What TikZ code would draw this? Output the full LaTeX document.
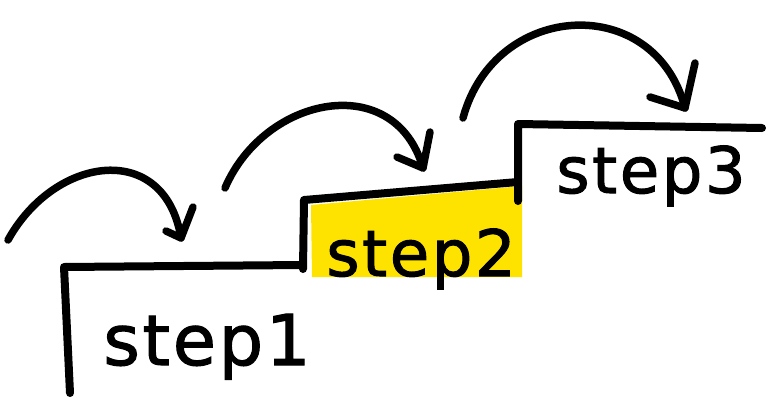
\documentclass[tikz,border=0pt]{standalone}
\usepackage{fontspec}
\newfontfamily\handfont[FakeBold=1.6,LetterSpace=4]{DejaVu Sans}
\definecolor{hiyellow}{HTML}{FFE300}
\tikzset{
  stair/.style={line width=8pt, line cap=round, line join=round},
  jump/.style={line width=7.5pt, line cap=round, line join=round},
  label/.style={font=\handfont\fontsize{70}{80}\selectfont, inner sep=0pt, anchor=base},
}
\begin{document}
\begin{tikzpicture}[x=1pt,y=-1pt]
\useasboundingbox (0,0) rectangle (780,408);
% highlight
\fill[hiyellow] (311,205) -- (522,186) -- (522,277) -- (312,277) -- cycle;
% stair corners
\coordinate (s1b) at (70,393);
\coordinate (s1t) at (64,267);
\coordinate (s1r) at (302,265);
\coordinate (s2t) at (304,200);
\coordinate (s2b) at (303,269);
\coordinate (s2r) at (518,182);
\coordinate (s3b) at (518,201);
\coordinate (s3t) at (518,124);
\coordinate (s3r) at (762,128);
\draw[stair] (s1b) -- (s1t) -- (s1r);
\draw[stair] (s2b) -- (s2t) -- (s2r);
\draw[stair] (s3b) -- (s3t) -- (s3r);
% labels
\node[label] (l1) at (207,365) {step1};
\node[label,font=\handfont\fontsize{64}{75}\selectfont] (l2) at (421,276) {step2};
\node[label,font=\handfont\fontsize{64}{75}\selectfont] (l3) at (651,193) {step3};
% jumps
\coordinate (a1s) at (8,240);   \coordinate (a1t) at (181,238);
\coordinate (a1u) at (193,207); \coordinate (a1l) at (166,231);
\coordinate (a2s) at (225,188); \coordinate (a2t) at (423,168);
\coordinate (a2u) at (430,132); \coordinate (a2l) at (397,157);
\coordinate (a3s) at (463,118); \coordinate (a3t) at (685,108);
\coordinate (a3u) at (695,63);  \coordinate (a3l) at (650,97);
\draw[jump] (a1s) .. controls (55,155) and (165,140) .. (a1t);
\draw[jump] (a1u) -- (a1t) -- (a1l);
\draw[jump] (a2s) .. controls (265,95) and (395,70) .. (a2t);
\draw[jump] (a2u) -- (a2t) -- (a2l);
\draw[jump] (a3s) .. controls (495,0) and (655,-8) .. (a3t);
\draw[jump] (a3u) -- (a3t) -- (a3l);
\end{tikzpicture}
\end{document}
